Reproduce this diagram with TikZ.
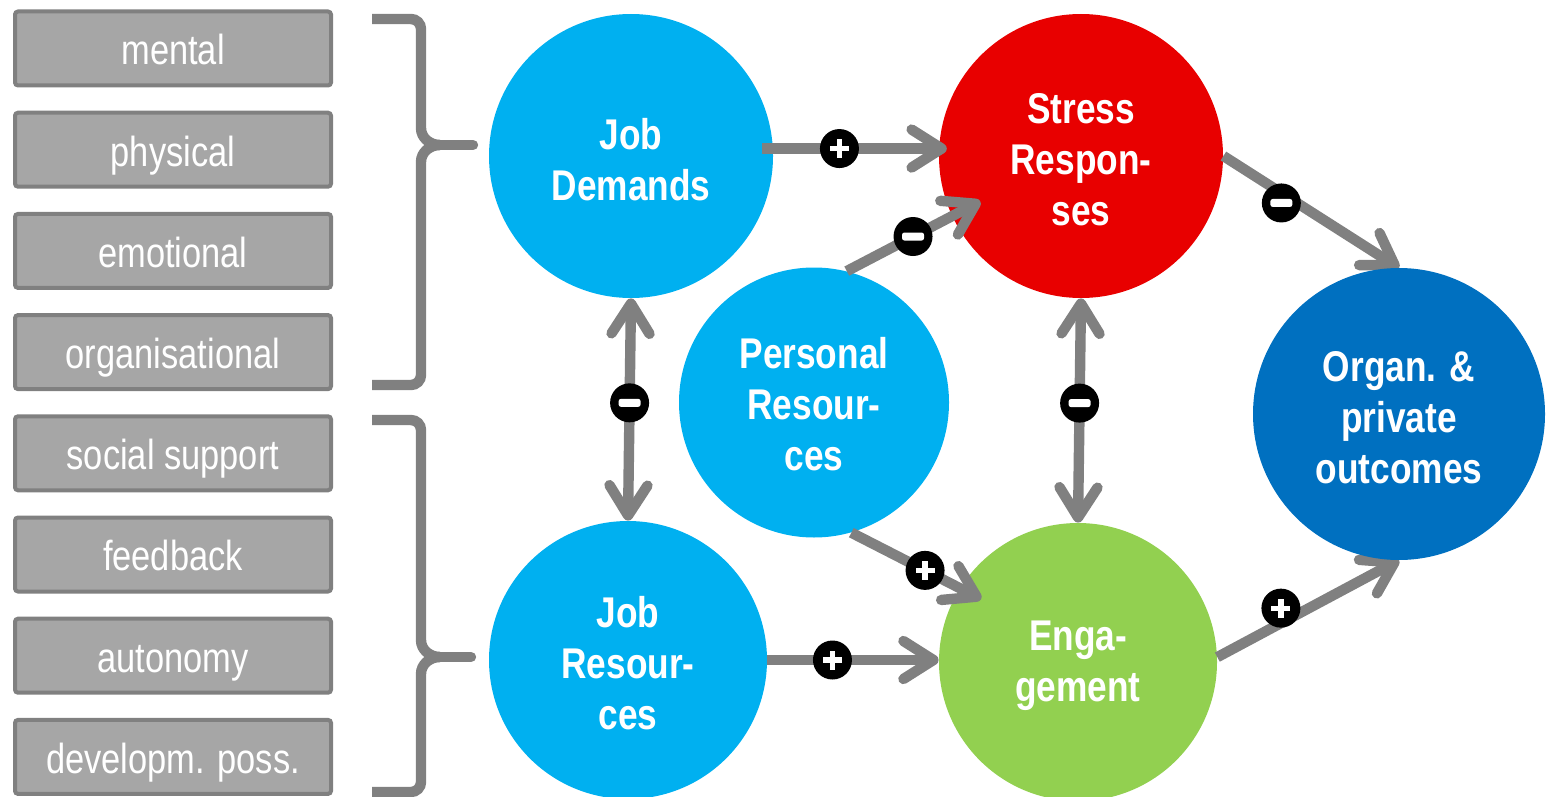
\documentclass[tikz,border=0pt]{standalone}
\usepackage{fontspec}
\newfontfamily\narrow{Liberation Sans}[FakeStretch=0.82]
\usetikzlibrary{arrows.meta}
\definecolor{lblue}{HTML}{00B0F0}
\definecolor{sred}{HTML}{E80000}
\definecolor{dblue}{HTML}{0070C0}
\definecolor{lgreen}{HTML}{92D050}
\definecolor{agray}{HTML}{808080}
\definecolor{bgray}{HTML}{A6A6A6}
\newcommand{\ctext}[2][-4.25pt]{\raisebox{#1}[\height][\depth]{\begin{tabular}{@{}c@{}}#2\end{tabular}}}
\tikzset{
  factor/.style={rectangle, rounded corners=1.5pt, fill=bgray, draw=agray, line width=2pt,
    minimum width=158pt, minimum height=37pt, inner sep=0pt, text=white,
    text height=20pt, text depth=3.6pt,
    font=\narrow\fontsize{21}{25}\selectfont},
  bubble/.style={circle, inner sep=0pt, text=white,
    font=\narrow\bfseries\fontsize{21.5}{25.5}\selectfont},
  conn/.style={draw=agray, line width=5.2pt, -{Straight Barb[length=15pt,width=19pt,round]}},
  dconn/.style={draw=agray, line width=5.2pt, {Straight Barb[length=15pt,width=19pt,round]}-{Straight Barb[length=15pt,width=19pt,round]}},
  brace/.style={draw=agray, line width=5.2pt},
  signbase/.style={circle, fill=black, minimum size=19.5pt, inner sep=0pt},
  plussign/.style={signbase, path picture={
    \fill[white] ([shift={(-9.5,-2.6)}]path picture bounding box.center) rectangle ([shift={(9.5,2.6)}]path picture bounding box.center);
    \fill[white] ([shift={(-2.6,-9.5)}]path picture bounding box.center) rectangle ([shift={(2.6,9.5)}]path picture bounding box.center);}},
  minussign/.style={signbase, path picture={
    \fill[white, rounded corners=1.2pt] ([shift={(-11,-4)}]path picture bounding box.center) rectangle ([shift={(11,4)}]path picture bounding box.center);}}
}
\begin{document}
\begin{tikzpicture}[x=0.5pt,y=-0.5pt]
\useasboundingbox (0,0) rectangle (1552,797);
% factor boxes
\node[factor] (b1) at (173,48.5) {mental};
\node[factor] (b2) at (173,149.7) {physical};
\node[factor] (b3) at (173,250.9) {emotional};
\node[factor] (b4) at (173,352.1) {organisational};
\node[factor] (b5) at (173,453.3) {social support};
\node[factor] (b6) at (173,554.5) {feedback};
\node[factor] (b7) at (173,655.7) {autonomy};
\node[factor] (b8) at (173,756.9) {developm. poss.};
% braces
\draw[brace] (372,19) -- (411,19) to[out=0,in=90] (421,29) -- (421,128) to[out=-90,in=180] (440,145);
\draw[brace] (440,145) to[out=180,in=90] (421,162) -- (421,375) to[out=-90,in=0] (411,385) -- (372,385);
\draw[brace, line cap=round] (440,145) -- (473,145);
\draw[brace] (372,420) -- (411,420) to[out=0,in=90] (421,430) -- (421,640) to[out=-90,in=180] (440,657);
\draw[brace] (440,657) to[out=180,in=90] (421,674) -- (421,782) to[out=-90,in=0] (411,792) -- (372,792);
\draw[brace, line cap=round] (440,657) -- (471,657);
% circles
\node[bubble, fill=lblue, minimum size=142pt] (jd) at (631,156) {\ctext{Job\\Demands}};
\node[bubble, fill=sred, minimum size=142pt] (sr) at (1081,156) {\ctext{Stress\\Respon-\\ses}};
\node[bubble, fill=lblue, minimum size=135pt] (pr) at (814,402.5) {\ctext[-3.25pt]{Personal\\Resour-\\ces}};
\node[bubble, fill=lblue, minimum size=139pt] (jr) at (628,660) {\ctext{Job\\Resour-\\ces}};
\node[bubble, fill=lgreen, minimum size=139pt] (eng) at (1078,662) {\ctext[-2.1pt]{Enga-\\gement}};
% connectors
\draw[conn, shorten <=-5.5pt, shorten >=-4pt] (jd.3) -- node[pos=0.40, plussign] (s1) {} (sr.177);
\draw[conn, shorten >=-16pt] (pr.76) -- node[pos=0.63, minussign] (s2) {} (sr.205);
\draw[conn] (sr.0) -- node[pos=0.33, yshift=-5pt, minussign] (s3) {} (1399,268) coordinate (orgtop);
\draw[conn] (eng.2) -- node[pos=0.35, yshift=7.5pt, plussign] (s4) {} (1399,560) coordinate (orgbot);
\draw[conn] (jr.0.4) -- node[pos=0.38, plussign] (s5) {} (jr.0.4 -| eng.180);
\draw[conn, shorten >=-12pt] (pr.-74.5) -- node[pos=0.68, plussign] (s6) {} (eng.148);
\draw[dconn] (jd.270) -- node[pos=0.47, minussign] (s7) {} (jr.90);
\draw[dconn] (sr.270) -- node[pos=0.467, minussign] (s8) {} (eng.90);
% outcome circle drawn above its incoming arrow tips
\node[bubble, fill=dblue, minimum size=146pt] (org) at (1399,414) {\ctext{Organ. \&\\private\\outcomes}};
\end{tikzpicture}
\end{document}
